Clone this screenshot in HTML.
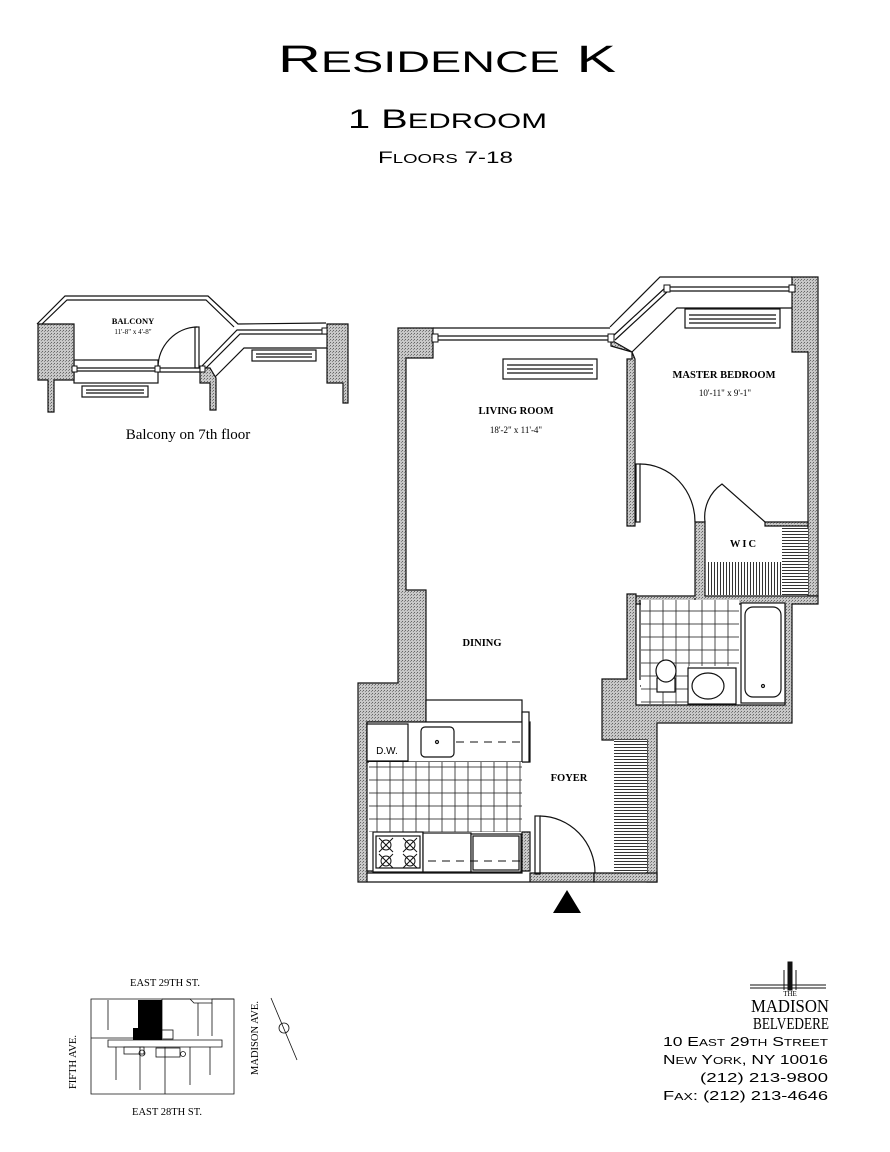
<!DOCTYPE html>
<html><head><meta charset="utf-8"><style>
html,body{margin:0;padding:0;background:#fff}
svg{display:block}
text{font-family:"Liberation Sans",sans-serif}
.s{font-family:"Liberation Serif",serif}
</style></head><body>
<svg width="890" height="1152" viewBox="0 0 890 1152" xmlns="http://www.w3.org/2000/svg">
<defs>
<pattern id="g" width="3" height="3" patternUnits="userSpaceOnUse">
<rect width="3" height="3" fill="#c8c8c8"/><rect width="1" height="1" fill="#666"/><rect x="2" y="1" width="1" height="1" fill="#888"/>
</pattern>
<pattern id="hh" width="4" height="3" patternUnits="userSpaceOnUse"><rect width="4" height="3" fill="#fff"/><rect width="4" height="1" fill="#333"/></pattern>
<pattern id="hv" width="3" height="4" patternUnits="userSpaceOnUse"><rect width="3" height="4" fill="#fff"/><rect width="1" height="4" fill="#333"/></pattern>
<pattern id="tile" width="13" height="13" patternUnits="userSpaceOnUse"><rect width="13" height="13" fill="#fff" stroke="#222" stroke-width="0.8"/></pattern>
</defs>

<!-- Titles -->
<text x="278" y="72" font-size="38" textLength="338" lengthAdjust="spacingAndGlyphs">R<tspan font-size="30">ESIDENCE</tspan> K</text>
<text x="348" y="128" font-size="27" textLength="199" lengthAdjust="spacingAndGlyphs">1 B<tspan font-size="21">EDROOM</tspan></text>
<text x="378" y="163" font-size="17" textLength="135" lengthAdjust="spacingAndGlyphs">F<tspan font-size="13">LOORS</tspan> 7-18</text>

<!-- BALCONY -->
<g stroke="#111" stroke-width="1.2" fill="none">
<polyline points="37,324 65,296 208,296 238,324 326,323"/>
<polyline points="41,325 67,300 206,300 234,327"/>
<path d="M200,368 L237,330 L327,330" />
<path d="M204,370 L240,334 L327,334" />
<path d="M214,378 L244,348 L327,348"/>
<rect x="74" y="360" width="84" height="23"/>
<line x1="74" y1="368" x2="200" y2="368"/>
<line x1="74" y1="371" x2="158" y2="371"/>
<line x1="158" y1="372" x2="200" y2="372"/>
<rect x="82" y="386" width="66" height="11"/>
<line x1="86" y1="390" x2="144" y2="390"/><line x1="86" y1="393" x2="144" y2="393"/>
<rect x="252" y="350" width="64" height="11"/>
<line x1="256" y1="354" x2="312" y2="354"/><line x1="256" y1="357" x2="312" y2="357"/>
<rect x="195" y="327" width="4" height="41"/>
<path d="M158,368 A40,41 0 0 1 197,327"/>
</g>
<g fill="url(#g)" stroke="#111" stroke-width="1.2">
<path d="M38,324 H74 V380 H54 V412 H48 V380 H38 Z"/>
<path d="M200,368 H210 L216,378 V410 H210 V383 H200 Z"/>
<path d="M327,324 H348 V403 H343 V383 H327 Z"/>
</g>
<g fill="#fff" stroke="#111"><rect x="72" y="366" width="5" height="6"/><rect x="155" y="366" width="5" height="6"/><rect x="200" y="366" width="5" height="6"/><rect x="322" y="328" width="5" height="6"/></g>
<text class="s" x="133" y="324" font-size="8.5" font-weight="bold" text-anchor="middle">BALCONY</text>
<text class="s" x="133" y="334" font-size="7" text-anchor="middle">11'-8"  x  4'-8"</text>
<text class="s" x="188" y="439" font-size="15" text-anchor="middle">Balcony on 7th floor</text>

<!-- MAIN PLAN walls -->
<g fill="url(#g)" stroke="#111" stroke-width="1.2">
<path d="M398,328 H433 V358 H406 V590 H426 V722 H367 V871 H530 V832 H522 V873 H367 L367,871 V882 H594 V873 H530 V882 H358 V683 H398 Z"/>
<path d="M611,340 L632,352 V359 H627 V526 H635 V359 L632,352 L611,346 Z"/>
<path d="M792,277 H818 V596 H808 V352 H792 Z"/>
<path d="M695,522 H705 V596 H808 V596 H818 V604 H792 V723 H657 V882 H647 V740 H602 V679 H627 V594 H636 V705 H785 V604 H636 V596 H695 Z"/>
<path d="M765,522 H808 V526 H765 Z"/>
<path d="M594,873 H657 V882 H594 Z"/>
</g>
<!-- windows -->
<g stroke="#111" stroke-width="1.2" fill="none">
<line x1="433" y1="336" x2="612" y2="336"/><line x1="433" y1="340" x2="612" y2="340"/>
<line x1="433" y1="328" x2="610" y2="328"/>
<polyline points="610,327 660,277 792,277"/>
<polyline points="613,336 666,287 792,287"/>
<polyline points="615,340 668,291 792,291"/>
<polyline points="632,352 677,308 792,308"/>
<rect x="503" y="359" width="94" height="20"/>
<line x1="507" y1="365" x2="593" y2="365"/><line x1="507" y1="369" x2="593" y2="369"/><line x1="507" y1="373" x2="593" y2="373"/>
<rect x="685" y="309" width="95" height="19"/>
<line x1="689" y1="315" x2="776" y2="315"/><line x1="689" y1="319" x2="776" y2="319"/><line x1="689" y1="323" x2="776" y2="323"/>
</g>
<g fill="#fff" stroke="#111"><rect x="432" y="334" width="6" height="8"/><rect x="608" y="334" width="6" height="8"/><rect x="664" y="285" width="6" height="7"/><rect x="789" y="285" width="6" height="7"/></g>

<!-- doors -->
<g stroke="#111" stroke-width="1.2" fill="none">
<rect x="636" y="464" width="4" height="58"/>
<path d="M640,464 A55,58 0 0 1 695,522"/>
<path d="M705,522 A40,40 0 0 1 722,484 L765,522"/>
<rect x="535" y="816" width="5" height="58"/>
<path d="M540,816 A56,57 0 0 1 595,873"/>
<path d="M640,600 V680"/>
<path d="M640,686 A55,88 0 0 0 695,598"/>
</g>

<rect x="707" y="562" width="74" height="33" fill="url(#hv)"/>
<rect x="782" y="528" width="26" height="67" fill="url(#hh)"/>
<rect x="614" y="740" width="33" height="132" fill="url(#hh)"/>

<!-- bath -->
<rect x="641" y="600" width="98" height="66" fill="url(#tile)"/>
<rect x="641" y="666" width="48" height="38" fill="url(#tile)"/>
<g stroke="#111" stroke-width="1.2" fill="#fff">
<rect x="741" y="603" width="44" height="100"/>
<rect x="745" y="607" width="36" height="90" rx="8"/>
<circle cx="763" cy="686" r="1.5"/>
<rect x="688" y="668" width="48" height="36"/>
<ellipse cx="708" cy="686" rx="16" ry="13"/>
<rect x="657" y="678" width="18" height="14"/>
<ellipse cx="666" cy="671" rx="10" ry="11"/>
</g>

<!-- kitchen -->
<g stroke="#111" stroke-width="1.2" fill="#fff">
<rect x="426" y="700" width="96" height="22"/>
<rect x="367" y="722" width="163" height="40"/>
<rect x="522" y="712" width="7" height="50"/>
<rect x="367" y="724" width="41" height="37"/>
<rect x="421" y="727" width="33" height="30" rx="4"/>
<circle cx="437" cy="742" r="1.5"/>
</g>
<text x="387" y="754" font-size="10" text-anchor="middle">D.W.</text>
<line x1="456" y1="742" x2="522" y2="742" stroke="#111" stroke-dasharray="8,6"/>
<rect x="369" y="762" width="153" height="70" fill="url(#tile)"/>
<g stroke="#111" stroke-width="1.2" fill="#fff">
<rect x="373" y="832" width="50" height="40"/>
<rect x="376" y="836" width="44" height="32"/>
<rect x="423" y="833" width="48" height="39"/>
<rect x="471" y="834" width="50" height="38"/>
<rect x="473" y="836" width="46" height="34"/>
</g>
<g stroke="#111" stroke-width="1" fill="none">
<circle cx="386" cy="845" r="5"/><circle cx="410" cy="845" r="5"/><circle cx="386" cy="861" r="5"/><circle cx="410" cy="861" r="5"/>
<path d="M379,838 l14,14 M393,838 l-14,14 M403,838 l14,14 M417,838 l-14,14 M379,854 l14,14 M393,854 l-14,14 M403,854 l14,14 M417,854 l-14,14"/>
</g>
<line x1="428" y1="861" x2="521" y2="861" stroke="#111" stroke-dasharray="8,6"/>

<polygon points="567,890 553,913 581,913" fill="#000"/>

<g class="s" font-size="10.5" font-weight="bold" text-anchor="middle">
<text class="s" x="516" y="414">LIVING ROOM</text>
<text class="s" x="724" y="378">MASTER BEDROOM</text>
<text class="s" x="482" y="646">DINING</text>
<text class="s" x="569" y="781">FOYER</text>
<text class="s" x="744" y="547" letter-spacing="2">WIC</text>
</g>
<g class="s" font-size="9" text-anchor="middle">
<text class="s" x="516" y="433">18'-2"  x  11'-4"</text>
<text class="s" x="725" y="396">10'-11"  x  9'-1"</text>
</g>

<!-- Key plan -->
<g stroke="#111" stroke-width="0.8" fill="none">
<path d="M91,999 H162 V1038 H91 Z M91,1038 V1094 H234 V999 H162"/>
<path d="M162,999 H190 L194,1003 H212 V999 H234"/>
<path d="M108,1040 H222 V1047 H108 Z"/>
<path d="M140,1047 V1090 M165,1047 V1094 M190,1047 V1085 M116,1047 V1080 M210,1047 V1075"/>
<path d="M108,1000 V1030 M198,1003 V1036 M212,1003 V1036"/>
<rect x="153" y="1030" width="20" height="9"/><rect x="156" y="1048" width="24" height="9"/>
<rect x="124" y="1047" width="20" height="7"/>
<circle cx="142" cy="1053" r="3"/><circle cx="183" cy="1054" r="2.5"/>
<line x1="271" y1="998" x2="297" y2="1060"/>
<circle cx="284" cy="1028" r="5"/>
</g>
<path d="M138,1000 H162 V1040 H133 V1028 H138 Z" fill="#000"/>
<g class="s" font-size="10.5">
<text class="s" x="165" y="986" text-anchor="middle">EAST 29TH ST.</text>
<text class="s" x="167" y="1115" text-anchor="middle">EAST 28TH ST.</text>
<text class="s" transform="translate(76,1062) rotate(-90)" text-anchor="middle">FIFTH AVE.</text>
<text class="s" transform="translate(258,1038) rotate(-90)" text-anchor="middle">MADISON AVE.</text>
</g>

<!-- Logo -->
<g stroke="#111" stroke-width="1">
<line x1="750" y1="985" x2="826" y2="985"/><line x1="750" y1="988" x2="826" y2="988"/>
<rect x="788" y="962" width="4" height="28" fill="#111"/>
<line x1="784" y1="970" x2="784" y2="990"/><line x1="796" y1="970" x2="796" y2="990"/>
</g>
<text class="s" x="790" y="996" font-size="7" text-anchor="middle">THE</text>
<text class="s" x="790" y="1012" font-size="18" text-anchor="middle" textLength="78" lengthAdjust="spacingAndGlyphs">MADISON</text>
<text class="s" x="791" y="1029" font-size="17" text-anchor="middle" textLength="76" lengthAdjust="spacingAndGlyphs">BELVEDERE</text>
<g font-size="13" text-anchor="end">
<text x="828" y="1046" textLength="165" lengthAdjust="spacingAndGlyphs">10 E<tspan font-size="10">AST</tspan> 29<tspan font-size="10">TH</tspan> S<tspan font-size="10">TREET</tspan></text>
<text x="828" y="1064" textLength="165" lengthAdjust="spacingAndGlyphs">N<tspan font-size="10">EW</tspan> Y<tspan font-size="10">ORK</tspan>, NY 10016</text>
<text x="828" y="1082" textLength="128" lengthAdjust="spacingAndGlyphs">(212) 213-9800</text>
<text x="828" y="1100" textLength="165" lengthAdjust="spacingAndGlyphs">F<tspan font-size="10">AX</tspan>: (212) 213-4646</text>
</g>
</svg>
</body></html>
